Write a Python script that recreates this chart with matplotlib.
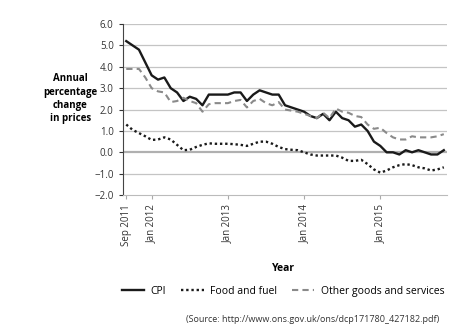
import numpy as np
import matplotlib.pyplot as plt

plt.rcParams['font.family'] = ['Open Sans', 'DejaVu Sans']

# months from Sep 2011 (index 0) to Nov 2015
cpi = [5.2, 5.0, 4.8, 4.2, 3.6, 3.4, 3.5, 3.0, 2.8, 2.4, 2.6, 2.5, 2.2,
       2.7, 2.7, 2.7, 2.7, 2.8, 2.8, 2.4, 2.7, 2.9, 2.8, 2.7, 2.7, 2.2,
       2.1, 2.0, 1.9, 1.7, 1.6, 1.8, 1.5, 1.9, 1.6, 1.5, 1.2, 1.3, 1.0,
       0.5, 0.3, 0.0, 0.0, -0.1, 0.1, 0.0, 0.1, 0.0, -0.1, -0.1, 0.1]
food_fuel = [1.3, 1.05, 0.9, 0.75, 0.58, 0.6, 0.7, 0.6, 0.35, 0.1, 0.12,
             0.25, 0.35, 0.42, 0.4, 0.4, 0.4, 0.38, 0.35, 0.3, 0.4, 0.5,
             0.5, 0.4, 0.25, 0.15, 0.12, 0.1, 0.0, -0.1, -0.15, -0.15,
             -0.15, -0.15, -0.25, -0.4, -0.4, -0.35, -0.55, -0.8, -0.95,
             -0.85, -0.7, -0.6, -0.55, -0.6, -0.7, -0.75, -0.85, -0.8, -0.7]
other = [3.9, 3.9, 3.9, 3.5, 3.0, 2.85, 2.8, 2.35, 2.4, 2.55, 2.4, 2.3,
         1.9, 2.25, 2.3, 2.3, 2.3, 2.4, 2.45, 2.1, 2.4, 2.5, 2.3, 2.2,
         2.35, 2.0, 1.95, 1.9, 1.8, 1.7, 1.6, 1.85, 1.6, 2.05, 1.9, 1.85,
         1.7, 1.65, 1.3, 1.1, 1.15, 0.9, 0.7, 0.6, 0.6, 0.75, 0.7, 0.7,
         0.7, 0.75, 0.85]
tick_pos = [0, 4, 16, 28, 40]
tick_labels = ['Sep 2011', 'Jan 2012', 'Jan 2013', 'Jan 2014', 'Jan 2015']

x = np.arange(len(cpi))

fig = plt.figure(figsize=(4.74, 3.29), dpi=100)
ax = fig.add_axes([0.259, 0.407, 0.684, 0.520])

for v in range(-2, 7):
    if v == 0:
        ax.axhline(v, color='#b0b0b0', lw=1.6, zorder=0)
    elif v != -2:
        ax.axhline(v, color='#c4c4c4', lw=0.9, zorder=0)

ax.plot(x, cpi, color='#1a1a1a', lw=1.7, label='CPI')
ax.plot(x, food_fuel, color='#1a1a1a', lw=1.7, linestyle=(0, (1, 1.2)),
        label='Food and fuel')
ax.plot(x, other, color='#8a8a8a', lw=1.5, linestyle=(0, (3, 2)),
        label='Other goods and services')

ax.set_xlim(-0.55, 50.5)
ax.set_ylim(-2, 6)
ax.set_yticks(range(-2, 7))
ax.set_yticklabels(['\u22122.0', '\u22121.0', '0.0', '1.0', '2.0', '3.0',
                    '4.0', '5.0', '6.0'])
ax.set_xticks(tick_pos)
ax.set_xticklabels(tick_labels, rotation=90)
ax.tick_params(axis='both', labelsize=7, colors='#333333', length=3)
ax.tick_params(axis='x', color='#aaaaaa')

for s in ['top', 'right']:
    ax.spines[s].set_visible(False)
ax.spines['left'].set_color('#444444')
ax.spines['bottom'].set_color('#bbbbbb')

fig.text(0.148, 0.70, 'Annual\npercentage\nchange\nin prices', ha='center',
         va='center', fontsize=7, fontweight='bold', linespacing=1.3)
fig.text(0.597, 0.185, 'Year', ha='center', va='center', fontsize=7.5,
         fontweight='bold')

handles, labels = ax.get_legend_handles_labels()
fig.legend(handles, labels, loc='center', bbox_to_anchor=(0.597, 0.115),
           ncol=3, frameon=False, fontsize=7.5, handlelength=2.2,
           columnspacing=1.4, handletextpad=0.6)

fig.text(0.66, 0.03, '(Source: http://www.ons.gov.uk/ons/dcp171780_427182.pdf)',
         ha='center', va='center', fontsize=6.5, color='#333333')

fig.savefig('out.png', dpi=100)
